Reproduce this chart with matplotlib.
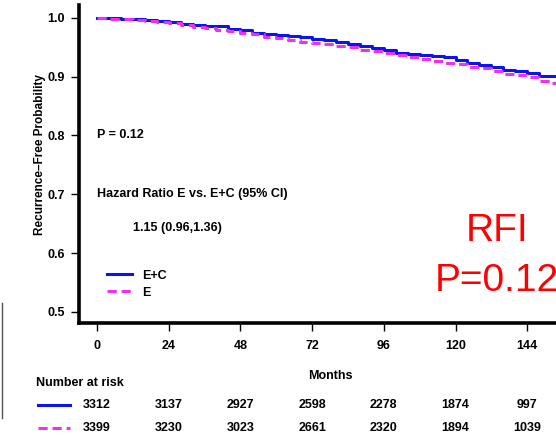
import matplotlib
matplotlib.use("Agg")
import matplotlib.pyplot as plt
from matplotlib.lines import Line2D
from matplotlib.transforms import blended_transform_factory

plt.rcParams['font.family'] = ['Liberation Sans', 'DejaVu Sans']
plt.rcParams['font.weight'] = 'bold'
plt.rcParams['axes.labelweight'] = 'bold'

# dados
meses = [0, 4, 8, 12, 16, 20, 24, 28, 32, 36, 40, 44, 48, 52, 56, 60, 64, 68,
         72, 76, 80, 84, 88, 92, 96, 100, 104, 108, 112, 116, 120, 124, 128,
         132, 136, 140, 144, 148, 152, 156]
rfi_ec = [1.000, 0.9995, 0.999, 0.998, 0.996, 0.994, 0.993, 0.990, 0.988,
          0.987, 0.986, 0.982, 0.980, 0.975, 0.973, 0.971, 0.969, 0.967,
          0.965, 0.962, 0.959, 0.956, 0.952, 0.949, 0.946, 0.941, 0.939,
          0.937, 0.935, 0.933, 0.929, 0.923, 0.920, 0.916, 0.911, 0.909,
          0.907, 0.902, 0.902, 0.901]
rfi_e = [1.000, 0.999, 0.998, 0.997, 0.995, 0.993, 0.991, 0.988, 0.985,
         0.983, 0.980, 0.977, 0.975, 0.972, 0.968, 0.966, 0.963, 0.959,
         0.957, 0.955, 0.953, 0.950, 0.946, 0.943, 0.940, 0.937, 0.934,
         0.930, 0.926, 0.924, 0.921, 0.917, 0.914, 0.909, 0.905, 0.903,
         0.899, 0.892, 0.889, 0.886]

ticks_x = [0, 24, 48, 72, 96, 120, 144]
risco_ec = [3312, 3137, 2927, 2598, 2278, 1874, 997]
risco_e = [3399, 3230, 3023, 2661, 2320, 1894, 1039]

azul = '#0a14f0'
magenta = '#f030f0'
fs = 9

fig = plt.figure(figsize=(5.56, 4.41), dpi=100)
ax = fig.add_axes([79/556, 1 - 323/441, 502/556, 318/441])

ax.plot(meses, rfi_ec, drawstyle='steps-post', color=azul, lw=2.2, label='E+C')
ax.plot(meses, rfi_e, drawstyle='steps-post', color=magenta, lw=2.2,
        linestyle=(0, (3, 1.6)), label='E')

ax.set_xlim(-6, 162)
ax.set_ylim(0.481, 1.022)
ax.set_xticks(ticks_x)
ax.set_yticks([0.5, 0.6, 0.7, 0.8, 0.9, 1.0])
ax.set_yticklabels(['0.5', '0.6', '0.7', '0.8', '0.9', '1.0'])
ax.spines['top'].set_visible(False)
ax.spines['right'].set_visible(False)
ax.spines['left'].set_linewidth(2.6)
ax.spines['bottom'].set_linewidth(2.6)
ax.tick_params(axis='both', length=6, width=1, labelsize=fs, pad=4)
ax.tick_params(axis='x', pad=6)

ax.set_ylabel('Recurrence\u2013Free Probability', fontsize=8.5)
ax.yaxis.set_label_coords(-33/502, (323 - 155)/318)
ax.set_xlabel('Months', fontsize=fs, labelpad=13)

ax.text(0, 0.8, 'P = 0.12', fontsize=fs, va='center', ha='left')
ax.text(0, 0.7, 'Hazard Ratio E vs. E+C (95% CI)', fontsize=fs, va='center', ha='left')
ax.text(12, 0.642, '1.15 (0.96,1.36)', fontsize=fs, va='center', ha='left')

ax.legend(loc='upper left', bbox_to_anchor=(0.0558, 0.168), frameon=False,
          fontsize=fs, borderpad=0, borderaxespad=0, handlelength=2.0,
          handletextpad=0.8, labelspacing=0.4)

# texto vermelho grande
ax.text(134, 0.621, 'RFI', color='#ff0000', fontsize=28, fontweight='normal',
        ha='center', va='baseline')
ax.text(134, 0.536, 'P=0.12', color='#ff0000', fontsize=28, fontweight='normal',
        ha='center', va='baseline')

# tabela de número em risco
trans = blended_transform_factory(ax.transData, fig.transFigure)
fig.text(36/556, 1 - 383/441, 'Number at risk', fontsize=fs, va='center', ha='left')
y1 = 1 - 405/441
y2 = 1 - 428/441
for x, n1, n2 in zip(ticks_x, risco_ec, risco_e):
    ax.text(x, y1, str(n1), transform=trans, fontsize=fs, ha='center', va='center')
    ax.text(x, y2, str(n2), transform=trans, fontsize=fs, ha='center', va='center')
fig.add_artist(Line2D([38/556, 70/556], [y1, y1], color=azul, lw=2.2))
fig.add_artist(Line2D([38/556, 70/556], [y2, y2], color=magenta, lw=2.2,
                      linestyle=(0, (3, 1.6))))

# linha vertical na borda esquerda
fig.add_artist(Line2D([2/556, 2/556], [1 - 303/441, 1 - 418/441], color='#555555', lw=1))

fig.savefig('out.png', dpi=100)
